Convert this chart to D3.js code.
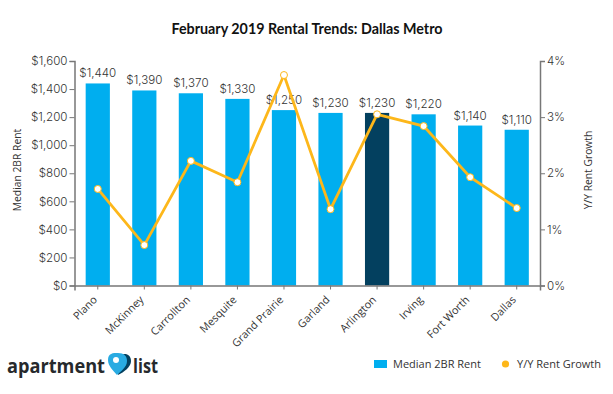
<!DOCTYPE html>
<html>
<head>
<meta charset="utf-8">
<script src="https://cdn.jsdelivr.net/npm/d3@7"></script>
<style>
html, body { margin: 0; padding: 0; background: #fff; }
text { font-family: "Open Sans", sans-serif; fill: #333; }
.num { font-family: Inter, sans-serif; font-weight: 300; }
</style>
</head>
<body>
<svg id="chart" width="613" height="394"></svg>
<script>
const cities = ['Plano', 'McKinney', 'Carrollton', 'Mesquite', 'Grand Prairie', 'Garland', 'Arlington', 'Irving', 'Fort Worth', 'Dallas'];
const rent = [1440, 1390, 1370, 1330, 1250, 1230, 1230, 1220, 1140, 1110];
const growth = [1.72, 0.72, 2.22, 1.84, 3.75, 1.36, 3.05, 2.84, 1.93, 1.38];
const rentTicks = [0, 200, 400, 600, 800, 1000, 1200, 1400, 1600];
const growthTicks = [0, 1, 2, 3, 4];
const highlight = 'Arlington';

const margin = { top: 61, left: 74.5, bottom: 108.5, right: 73 };
const width = 613, height = 394;
const svg = d3.select('#chart');
const plot = svg.append('g').attr('transform', `translate(${margin.left},${margin.top})`);
const w = width - margin.left - margin.right;
const h = height - margin.top - margin.bottom;

const x = d3.scaleBand().domain(cities).range([0, w]).paddingInner(0.48).paddingOuter(0.24);
const yRent = d3.scaleLinear().domain([0, 1600]).range([h, 0]);
const yGrowth = d3.scaleLinear().domain([0, 4]).range([h, 0]);

svg.append('text')
    .attr('x', 307).attr('y', 34)
    .attr('text-anchor', 'middle')
    .attr('font-size', 14.3).attr('font-weight', 700)
    .style('font-family', 'Lato, sans-serif')
    .style('fill', '#111')
    .text('February 2019 Rental Trends: Dallas Metro');

// bars
plot.selectAll('.bar')
    .data(cities)
    .enter()
    .append('rect')
    .attr('class', 'bar')
    .attr('x', d => x(d))
    .attr('width', x.bandwidth())
    .attr('y', (d, i) => yRent(rent[i]))
    .attr('height', (d, i) => h - yRent(rent[i]))
    .attr('fill', d => d === highlight ? '#03405f' : '#00aeef');

// axes
const styleAxis = (g) => {
    g.selectAll('path, line').attr('stroke', '#777').attr('stroke-width', 1);
    g.select('.domain').attr('stroke-width', 1.5);
    g.selectAll('text').attr('font-size', 11.6).style('fill', '#333').attr('class', 'num').attr('font-family', null);
};

plot.append('g')
    .call(d3.axisLeft(yRent).tickValues(rentTicks).tickSize(5).tickPadding(2).tickFormat(d => '$' + d3.format(',')(d)))
    .call(styleAxis);

plot.append('g')
    .attr('transform', `translate(${w},0)`)
    .call(d3.axisRight(yGrowth).tickValues(growthTicks).tickSize(5).tickPadding(2).tickFormat(d => d + '%'))
    .call(styleAxis);

plot.append('g')
    .attr('transform', `translate(0,${h})`)
    .call(d3.axisBottom(x).tickSize(4).tickSizeOuter(5))
    .call(styleAxis)
    .selectAll('text')
    .attr('class', null)
    .attr('font-size', 10.8)
    .attr('text-anchor', 'end')
    .attr('dx', 0).attr('dy', 0)
    .attr('transform', 'translate(-5,10) rotate(-45)');

// value labels
plot.selectAll('.bar-label')
    .data(cities)
    .enter()
    .append('text')
    .attr('class', 'bar-label num')
    .attr('x', d => x(d) + x.bandwidth() / 2)
    .attr('y', (d, i) => yRent(rent[i]) - 6)
    .attr('text-anchor', 'middle')
    .attr('font-size', 11.6)
    .text((d, i) => '$' + d3.format(',')(rent[i]));

// growth line
const line = d3.line()
    .x(d => x(d) + x.bandwidth() / 2)
    .y(d => yGrowth(growth[cities.indexOf(d)]));

plot.append('path')
    .datum(cities)
    .attr('d', line)
    .attr('fill', 'none')
    .attr('stroke', '#fdb71a')
    .attr('stroke-width', 2.8);

plot.selectAll('.point')
    .data(cities)
    .enter()
    .append('circle')
    .attr('class', 'point')
    .attr('cx', d => x(d) + x.bandwidth() / 2)
    .attr('cy', (d, i) => yGrowth(growth[i]))
    .attr('r', 3.5)
    .attr('fill', '#fff')
    .attr('stroke', '#fdb71a')
    .attr('stroke-width', 1);

// axis titles
svg.append('text')
    .attr('transform', 'translate(21,170) rotate(-90)')
    .attr('text-anchor', 'middle').attr('font-size', 10.3)
    .text('Median 2BR Rent');

svg.append('text')
    .attr('transform', 'translate(592,170) rotate(-90)')
    .attr('text-anchor', 'middle').attr('font-size', 10.3)
    .text('Y/Y Rent Growth');

// legend
svg.append('rect').attr('x', 374).attr('y', 360).attr('width', 13).attr('height', 8).attr('fill', '#00aeef');
svg.append('text').attr('x', 393).attr('y', 368).attr('font-size', 11).text('Median 2BR Rent');
svg.append('circle').attr('cx', 505.5).attr('cy', 364).attr('r', 3.6).attr('fill', '#fdb71a');
svg.append('text').attr('x', 517).attr('y', 368).attr('font-size', 11).text('Y/Y Rent Growth');

// logo
const logo = svg.append('g');
logo.append('text').attr('x', 7).attr('y', 373).attr('font-size', 19).attr('font-weight', 700)
    .attr('textLength', 98).attr('lengthAdjust', 'spacingAndGlyphs').style('fill', '#26292c').text('apartment');
logo.append('text').attr('x', 133).attr('y', 373).attr('font-size', 19).attr('font-weight', 700)
    .attr('textLength', 25).attr('lengthAdjust', 'spacingAndGlyphs').style('fill', '#26292c').text('list');
logo.append('path').attr('d', 'M120 356 C124 352 131 354 131 361 C131 367 124 372 118 375 Z').attr('fill', '#03405f');
logo.append('path').attr('d', 'M117 375 C113 370 108 366 108 360 C108 353 113 353 118 353 C124 353 127 356 127 361 C127 367 121 371 117 375 Z').attr('fill', '#29abe2');
logo.append('circle').attr('cx', 116).attr('cy', 360).attr('r', 3).attr('fill', '#fff');
</script>
</body>
</html>
